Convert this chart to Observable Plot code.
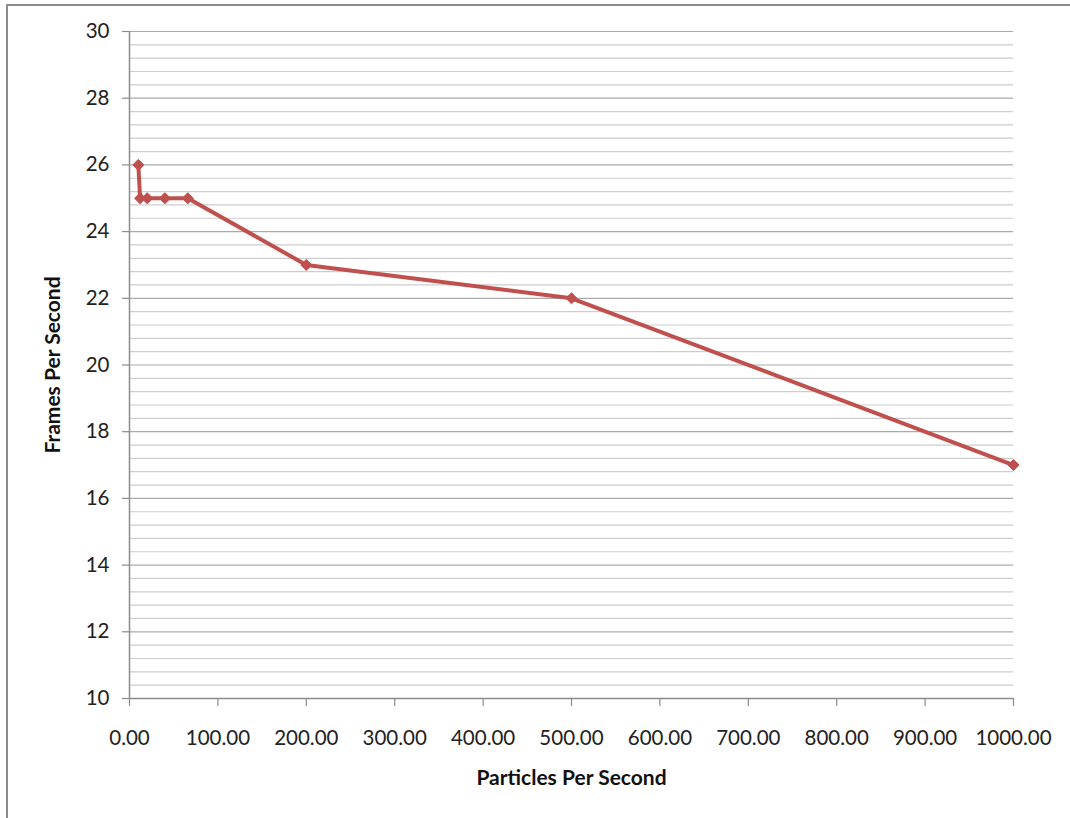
<!DOCTYPE html>
<html>
<head>
<meta charset="utf-8">
<script src="https://cdn.jsdelivr.net/npm/d3@7"></script>
<script src="https://cdn.jsdelivr.net/npm/@observablehq/plot@0.6"></script>
<style>
  html, body { margin: 0; padding: 0; background: #fff; overflow: hidden; }
  #wrap { position: relative; width: 1070px; height: 818px; }
  #frame { position: absolute; left: 6px; top: 4px; width: 1100px; height: 900px; border: 2px solid #8c8c8c; box-sizing: border-box; }
  #chart { position: absolute; left: 0; top: 0; }
</style>
</head>
<body>
<div id="wrap"><div id="frame"></div><div id="chart"></div></div>
<script>
const particles = [10, 12, 20, 40, 66, 200, 500, 1000];
const fps = [26, 25, 25, 25, 25, 23, 22, 17];
const xTicks = [0, 100, 200, 300, 400, 500, 600, 700, 800, 900, 1000];
const yTicks = [10, 12, 14, 16, 18, 20, 22, 24, 26, 28, 30];
const xLabel = "Particles Per Second";
const yLabel = "Frames Per Second";

const data = particles.map((p, i) => ({x: p, y: fps[i]}));
const minorY = d3.range(10, 30.001, 0.4).filter(v => Math.abs(v / 2 - Math.round(v / 2)) > 1e-6);

const chart = Plot.plot({
  width: 1070,
  height: 818,
  marginLeft: 129,
  marginRight: 57,
  marginTop: 31,
  marginBottom: 120,
  style: {fontFamily: "Lato, sans-serif", background: "transparent", color: "#222"},
  x: {domain: [0, 1000]},
  y: {domain: [10, 30]},
  marks: [
    Plot.ruleY(minorY, {stroke: "#cdcdcd", strokeWidth: 1.2}),
    Plot.ruleY(yTicks.filter(v => v > 10), {stroke: "#ababab", strokeWidth: 1.2}),
    Plot.ruleX([0], {stroke: "#8c8c8c", strokeWidth: 1.5}),
    Plot.ruleY([10], {stroke: "#8c8c8c", strokeWidth: 1.5}),
    Plot.axisY({ticks: yTicks, tickSize: 7, tickPadding: 13, stroke: "#8c8c8c", strokeWidth: 1.2, fontSize: 20.5, label: null, fill: "#222"}),
    Plot.axisX({ticks: xTicks, tickSize: 8, tickPadding: 24, stroke: "#8c8c8c", strokeWidth: 1.2, fontSize: 20.5, label: null, tickFormat: d => d.toFixed(2), fill: "#222"}),
    Plot.text([xLabel], {frameAnchor: "bottom", dy: 86, fontSize: 21, fontWeight: "bold", fill: "#111"}),
    Plot.text([yLabel], {frameAnchor: "left", textAnchor: "middle", dx: -76, rotate: -90, fontSize: 21, fontWeight: "bold", fill: "#111"}),
    Plot.line(data, {x: "x", y: "y", stroke: "#C0504D", strokeWidth: 4, strokeLinejoin: "round"}),
    Plot.dot(data, {x: "x", y: "y", symbol: "diamond2", r: 5, fill: "#C0504D", stroke: "#C0504D", strokeWidth: 1})
  ]
});
document.getElementById("chart").appendChild(chart);
</script>
</body>
</html>
